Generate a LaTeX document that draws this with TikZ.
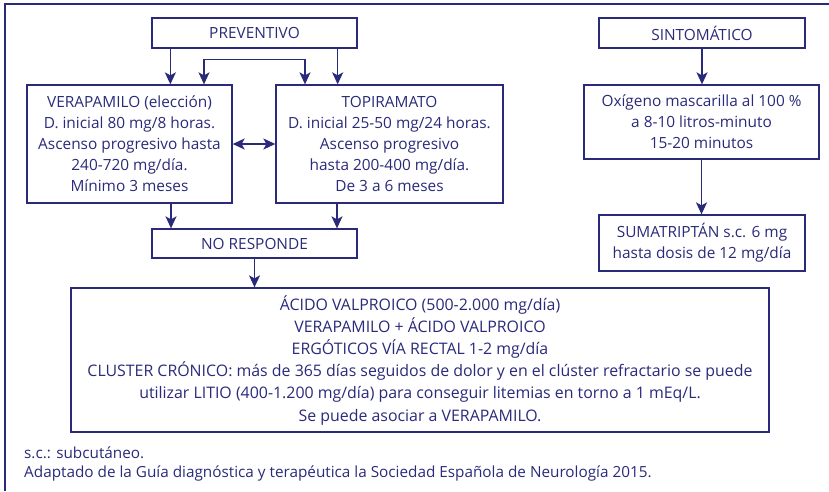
\documentclass[tikz,border=0pt]{standalone}
\usepackage{fontspec}
\setmainfont{Open Sans}
\usepackage{tikz}
\usetikzlibrary{arrows.meta,positioning,calc}
\definecolor{navy}{RGB}{42,42,122}

\begin{document}
\begin{tikzpicture}[
  x=1pt, y=-1pt,
  font=\fontsize{15.4}{21}\selectfont,
  >={Stealth[length=12pt,width=11pt,inset=3pt]},
  every node/.style={text=navy},
  stepbox/.style={draw=navy, line width=1.3pt, align=center, inner sep=0pt},
  arr/.style={->, draw=navy, line width=1.4pt}
]
\useasboundingbox (0,0) rectangle (829,491);
\draw[navy, line width=2.8pt] (5,491) -- (5,4) -- (829,4);
\node[stepbox, minimum width=205pt, minimum height=30pt] (prev) at (254.5,33) {PREVENTIVO};
\node[stepbox, minimum width=205pt, minimum height=118pt] (vera) at (129.5,144) {VERAPAMILO (elección)\\D. inicial 80 mg/8 horas.\\Ascenso progresivo hasta\\240-720 mg/día.\\Mínimo 3 meses};
\node[stepbox, minimum width=227pt, minimum height=118pt] (topi) at (389.5,144) {TOPIRAMATO\\D. inicial 25-50 mg/24 horas.\\Ascenso progresivo\\hasta 200-400 mg/día.\\De 3 a 6 meses};
\node[stepbox, minimum width=205pt, minimum height=29pt] (nores) at (254.5,243.5) {NO RESPONDE};
\node[stepbox, minimum width=698pt, minimum height=144pt, font=\fontsize{15.9}{22.2}\selectfont] (valp) at (420,360) {ÁCIDO VALPROICO (500-2.000 mg/día)\\VERAPAMILO + ÁCIDO VALPROICO\\ERGÓTICOS VÍA RECTAL 1-2 mg/día\\CLUSTER CRÓNICO: más de 365 días seguidos de dolor y en el clúster refractario se puede\\utilizar LITIO (400-1.200 mg/día) para conseguir litemias en torno a 1 mEq/L.\\Se puede asociar a VERAPAMILO.};
\node[stepbox, minimum width=206pt, minimum height=30pt] (sint) at (702,33) {SINTOMÁTICO};
\node[stepbox, minimum width=235pt, minimum height=74pt] (oxi) at (701.5,122) {Oxígeno mascarilla al 100 \%\\a 8-10 litros-minuto\\15-20 minutos};
\node[stepbox, minimum width=206pt, minimum height=56pt] (suma) at (702,243) {SUMATRIPTÁN s.c. 6 mg\\hasta dosis de 12 mg/día};
\node[anchor=west, inner sep=0pt, font=\fontsize{15.3}{18}\selectfont] (nota) at (24,453) {s.c.: subcutáneo.};
\node[anchor=west, inner sep=0pt, font=\fontsize{15.3}{18}\selectfont] (fuente) at (24,473) {Adaptado de la Guía diagnóstica y terapéutica la Sociedad Española de Neurología 2015.};
\draw[arr] ([xshift=19pt]prev.south west) -- ([xshift=19pt]prev.south west |- vera.north);
\draw[arr] ([xshift=-20pt]prev.south east) -- ([xshift=-20pt]prev.south east |- topi.north);
\draw[arr, <->] ([xshift=74.5pt]vera.north) -- ++(0,-25) -| ([xshift=-84.5pt]topi.north);
\draw[arr, <->] (vera.east) -- (topi.west);
\draw[arr] ([xshift=41.5pt]vera.south) -- ([xshift=41.5pt]vera.south |- nores.north);
\draw[arr] ([xshift=-52.5pt]topi.south) -- ([xshift=-52.5pt]topi.south |- nores.north);
\draw[arr] (nores.south) -- (nores.south |- valp.north);
\draw[arr] (sint.south) -- (sint.south |- oxi.north);
\draw[arr] (oxi.south) -- (oxi.south |- suma.north);
\end{tikzpicture}
\end{document}
